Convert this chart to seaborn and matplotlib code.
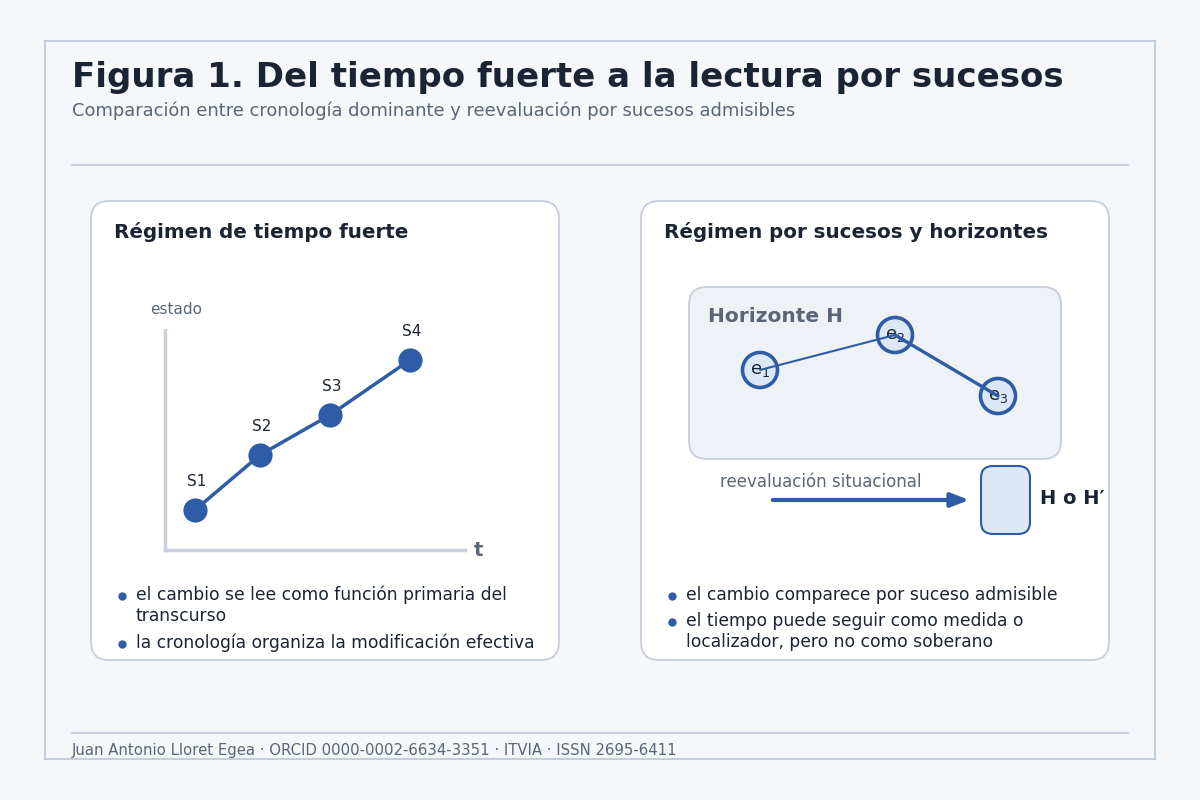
import matplotlib.pyplot as plt
import seaborn as sns
import pandas as pd
from matplotlib.patches import FancyBboxPatch, Rectangle, Circle

# left panel: state over time
t_vals = [0.30, 0.95, 1.65, 2.45]
estado_vals = [0.40, 0.95, 1.35, 1.90]
state_labels = ["S1", "S2", "S3", "S4"]

# right panel: events inside the horizon (pixel layout of the diagram)
event_labels = ["e$_1$", "e$_2$", "e$_3$"]
event_x = [760, 895, 998]
event_y = [370, 335, 396]

left_bullets = ["el cambio se lee como función primaria del\ntranscurso",
                "la cronología organiza la modificación efectiva"]
right_bullets = ["el cambio comparece por suceso admisible",
                 "el tiempo puede seguir como medida o\nlocalizador, pero no como soberano"]

BLUE = "#2f5ca6"
DARK = "#1b2435"
GREY = "#5a6578"
BORDER = "#c6cedb"


def rounded(ax, x0, y0, x1, y1, fc, ec, r=18, lw=1.3):
    ax.add_patch(FancyBboxPatch((x0 + r, y0 + r), x1 - x0 - 2 * r, y1 - y0 - 2 * r,
                                boxstyle=f"round,pad={r}", fc=fc, ec=ec, lw=lw))


def bullets(ax, x, ys, texts):
    for y, txt in zip(ys, texts):
        ax.plot(x, y + 1, "o", color=BLUE, ms=5)
        ax.text(x + 14, y - 9, txt, fontsize=12.3, color=DARK, va="top", linespacing=1.2)


def main():
    sns.set_theme(style="white")
    plt.rcParams['font.family'] = ['DejaVu Sans']
    fig = plt.figure(figsize=(12, 8), dpi=100, facecolor="#f5f7fa")
    ax = fig.add_axes([0, 0, 1, 1])
    ax.set_xlim(0, 1200)
    ax.set_ylim(800, 0)
    ax.axis("off")
    ax.set_facecolor("#f5f7fa")

    ax.add_patch(Rectangle((45, 41), 1110, 718, fc="#f5f7fa", ec=BORDER, lw=1.5))
    ax.text(72, 78, "Figura 1. Del tiempo fuerte a la lectura por sucesos", fontsize=24.5,
            weight="bold", color=DARK, va="center")
    ax.text(72, 111, "Comparación entre cronología dominante y reevaluación por sucesos admisibles",
            fontsize=12.9, color=GREY, va="center")
    ax.plot([72, 1128], [165, 165], color=BORDER, lw=1.5)
    ax.plot([72, 1128], [733, 733], color=BORDER, lw=1.5)
    ax.text(72, 750, "Juan Antonio Lloret Egea · ORCID 0000-0002-6634-3351 · ITVIA · ISSN 2695-6411",
            fontsize=10.75, color=GREY, va="center")

    # panels
    rounded(ax, 91, 201, 559, 660, "white", BORDER)
    rounded(ax, 641, 201, 1109, 660, "white", BORDER)
    ax.text(114, 232, "Régimen de tiempo fuerte", fontsize=14.3, weight="bold", color=DARK, va="center")
    ax.text(664, 232, "Régimen por sucesos y horizontes", fontsize=14.3, weight="bold", color=DARK, va="center")

    # left chart
    cax = fig.add_axes([165 / 1200, 1 - 550 / 800, 300 / 1200, 220 / 800])
    cax.set_xlim(0, 3)
    cax.set_ylim(0, 2.2)
    cax.patch.set_alpha(0)
    df = pd.DataFrame({"t": t_vals, "estado": estado_vals, "label": state_labels})
    sns.lineplot(data=df, x="t", y="estado", color=BLUE, lw=2.5, ax=cax)
    sns.scatterplot(data=df, x="t", y="estado", color=BLUE, s=260, edgecolor=BLUE, ax=cax, zorder=3)
    for _, r in df.iterrows():
        cax.annotate(r["label"], (r["t"], r["estado"]), xytext=(1, 17), textcoords="offset points",
                     fontsize=11, color=DARK, ha="center")
    for side in ["top", "right"]:
        cax.spines[side].set_visible(False)
    for side in ["left", "bottom"]:
        cax.spines[side].set_color("#c9d0db")
        cax.spines[side].set_linewidth(2.5)
    cax.set_xticks([])
    cax.set_yticks([])
    cax.set_xlabel("")
    cax.set_ylabel("")
    ax.text(150, 309, "estado", fontsize=11, color=GREY, va="center")
    ax.text(474, 551, "t", fontsize=14, weight="bold", color=GREY, va="center")

    bullets(ax, 122, [595, 643], left_bullets)

    # right diagram
    rounded(ax, 689, 287, 1061, 459, "#eef1f6", BORDER)
    ax.text(708, 316, "Horizonte H", fontsize=14.5, weight="bold", color=GREY, va="center")
    for x, y, lab in zip(event_x, event_y, event_labels):
        ax.add_patch(Circle((x, y), 17.5, fc="#dde8f7", ec=BLUE, lw=2.6, zorder=3))
        ax.text(x, y, lab, fontsize=13, color=DARK, ha="center", va="center", zorder=4)
    ax.plot(event_x[:2], event_y[:2], color=BLUE, lw=1.5, zorder=5)
    ax.plot(event_x[1:], event_y[1:], color=BLUE, lw=2.4, zorder=5)

    ax.text(720, 482, "reevaluación situacional", fontsize=12, color=GREY, va="center")
    ax.annotate("", xy=(972, 500), xytext=(770, 500),
                arrowprops=dict(arrowstyle="-|>,head_length=0.9,head_width=0.35", color=BLUE, lw=3))
    rounded(ax, 981, 466, 1030, 534, "#dde8f7", BLUE, r=12, lw=1.5)
    ax.text(1040, 499, "H o H′", fontsize=14, weight="bold", color=DARK, va="center")

    bullets(ax, 672, [595, 621], right_bullets)

    fig.savefig("out.png", dpi=100, facecolor=fig.get_facecolor())
    plt.close(fig)


if __name__ == "__main__":
    main()
